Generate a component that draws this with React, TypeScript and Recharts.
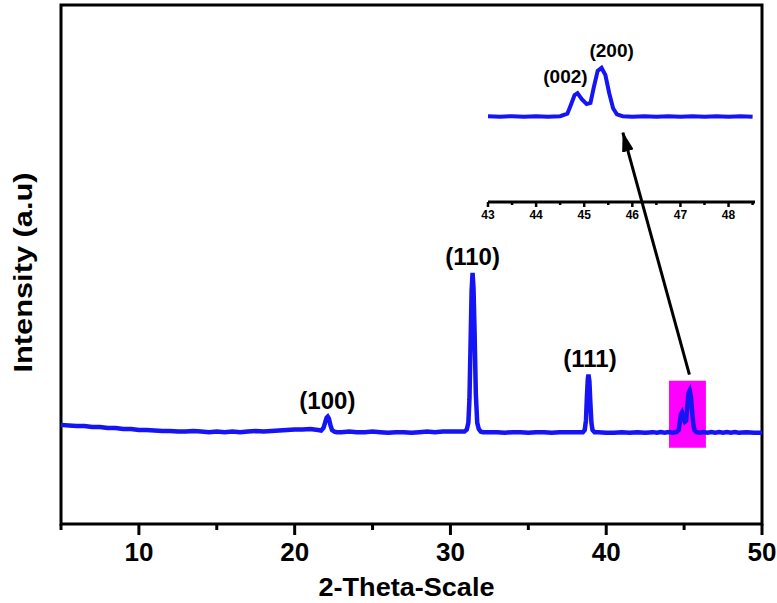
import {
  LineChart,
  Line,
  XAxis,
  YAxis,
  ReferenceArea,
  ReferenceLine,
  ReferenceDot,
} from "recharts";

// 2-theta positions (deg) and intensity (a.u.)
const twoTheta = [
  5.0, 5.5, 6.0, 6.5, 7.0, 7.5, 8.0, 8.5, 9.0, 9.5, 10.0, 10.5, 11.0, 11.5, 12.0, 12.5,
  13.0, 13.5, 14.0, 14.5, 15.0, 15.5, 16.0, 16.5, 17.0, 17.5, 18.0, 18.5, 19.0, 19.5,
  20.0, 20.5, 21.0, 21.5, 21.7, 21.85, 21.95, 22.05, 22.12, 22.2, 22.3, 22.4, 22.55,
  22.7, 23.0, 23.5, 24.0, 24.5, 25.0, 25.5, 26.0, 26.5, 27.0, 27.5, 28.0, 28.5, 29.0,
  29.5, 30.0, 30.5, 30.9, 31.05, 31.15, 31.22, 31.3, 31.36, 31.42, 31.48, 31.55, 31.63,
  31.72, 31.82, 31.95, 32.1, 32.5, 33.0, 33.5, 34.0, 34.5, 35.0, 35.5, 36.0, 36.5, 37.0,
  37.5, 38.0, 38.5, 38.62, 38.7, 38.76, 38.82, 38.86, 38.92, 38.98, 39.05, 39.12, 39.25,
  39.5, 40.0, 40.5, 41.0, 41.5, 42.0, 42.5, 43.0, 43.25, 43.5, 43.75, 44.0, 44.25, 44.5,
  44.65, 44.72, 44.8, 44.86, 44.95, 45.05, 45.13, 45.2, 45.28, 45.36, 45.44, 45.52, 45.6,
  45.68, 45.8, 46.0, 46.25, 46.5, 46.75, 47.0, 47.25, 47.5, 47.75, 48.0, 48.25, 48.5,
  49.0, 49.5, 50.0,
];
const intensity = [
  191, 190, 189, 189, 187, 187, 185, 185, 183, 183, 181, 181, 180, 179, 179, 178,
  178, 179, 178, 177, 178, 177, 178, 177, 178, 179, 178, 179, 180, 181,
  182, 182, 183, 181, 180, 185, 195, 205, 207, 203, 190, 181, 178,
  177, 177, 178, 177, 177, 178, 177, 176, 177, 177, 176, 177, 178, 177,
  178, 178, 178, 178, 182, 195, 240, 360, 450, 484, 455, 370, 250,
  195, 183, 178, 177, 177, 177, 176, 177, 177, 176, 177, 177, 176, 177,
  177, 177, 177, 181, 200, 245, 280, 288, 275, 235, 195, 181, 177,
  177, 176, 176, 177, 176, 177, 176, 177, 176, 177, 176, 177, 176, 177,
  181, 195, 212, 215, 205, 197, 199, 225, 252, 257, 245, 215, 190,
  180, 177, 176, 177, 176, 177, 176, 177, 176, 177, 176, 177, 176,
  177, 176, 176,
];

const mainTicks = [5, 10, 15, 20, 25, 30, 35, 40, 45, 50];
const insetTicks = [43, 43.5, 44, 44.5, 45, 45.5, 46, 46.5, 47, 47.5, 48, 48.5];

// Miller indices and where their labels sit (2-theta, intensity)
const mainPeakLabels = ["(100)", "(110)", "(111)"];
const mainPeakX = [22.1, 31.42, 38.96];
const mainPeakY = [222, 500, 303];
const insetPeakLabels = ["(002)", "(200)"];
const insetPeakX = [44.61, 45.57];
const insetPeakY = [232, 275];

const data = twoTheta.map((t, i) => ({ t, v: intensity[i] }));
const insetData = data.filter((d) => d.t >= 43 && d.t <= 48.5);

const FONT = "'Liberation Sans', Arial, Helvetica, sans-serif";
const BLUE = "#1414f5";

const MainTick = (props: any) => {
  const { x, y, payload } = props;
  const major = payload.value % 10 === 0;
  return (
    <g>
      <line x1={x} x2={x} y1={y} y2={y + (major ? 11 : 6)} stroke="#000" strokeWidth={3} />
      {major && (
        <text x={x} y={y + 37} textAnchor="middle" fontSize={26} fontWeight="bold" fontFamily={FONT} fill="#000">
          {payload.value}
        </text>
      )}
    </g>
  );
};

const InsetTick = (props: any) => {
  const { x, y, payload } = props;
  const major = Number.isInteger(payload.value);
  return (
    <g>
      <line x1={x} x2={x} y1={y} y2={y + (major ? 5 : 3)} stroke="#000" strokeWidth={2.5} />
      {major && (
        <text x={x} y={y + 17} textAnchor="middle" fontSize={12} fontWeight="bold" fontFamily={FONT} fill="#000">
          {payload.value}
        </text>
      )}
    </g>
  );
};

const peakLabel = (text: string, size: number) => (props: any) => {
  const { viewBox } = props;
  return (
    <text x={viewBox.x} y={viewBox.y} textAnchor="middle" fontSize={size} fontWeight="bold" fontFamily={FONT} fill="#000">
      {text}
    </text>
  );
};

const XTitle = (props: any) => {
  const { viewBox } = props;
  return (
    <text
      x={viewBox.x + viewBox.width / 2 - 5}
      y={viewBox.y + 72}
      textAnchor="middle"
      fontSize={25}
      fontWeight="bold"
      fontFamily={FONT}
      fill="#000"
      textLength={176}
      lengthAdjust="spacingAndGlyphs"
    >
      2-Theta-Scale
    </text>
  );
};

const YTitle = (props: any) => {
  const { viewBox } = props;
  const cx = 32;
  const cy = viewBox.y + viewBox.height / 2 + 8;
  return (
    <text
      x={cx}
      y={cy}
      transform={`rotate(-90, ${cx}, ${cy})`}
      textAnchor="middle"
      fontSize={25}
      fontWeight="bold"
      fontFamily={FONT}
      fill="#000"
      textLength={200}
      lengthAdjust="spacingAndGlyphs"
    >
      Intensity (a.u)
    </text>
  );
};

export default function App() {
  return (
    <div style={{ position: "absolute", left: 0, top: 0, width: 777, height: 603, background: "#fff" }}>
      <div style={{ position: "absolute", left: 0, top: 0 }}>
        <LineChart width={777} height={603} data={data} margin={{ top: 5, right: 15, bottom: 8, left: 0 }}>
          <defs>
            <marker
              id="arrowHead"
              viewBox="0 0 20 12"
              refX={19}
              refY={6}
              markerWidth={20}
              markerHeight={12}
              markerUnits="userSpaceOnUse"
              orient="auto"
            >
              <path d="M0,0 L20,6 L0,12 z" fill="#000" />
            </marker>
          </defs>
          <XAxis
            dataKey="t"
            type="number"
            domain={[5, 50]}
            ticks={mainTicks}
            interval={0}
            height={71}
            axisLine={false}
            tickLine={false}
            tickSize={0}
            tickMargin={0}
            tick={MainTick}
            label={XTitle}
          />
          <YAxis
            type="number"
            domain={[0, 1000]}
            width={61}
            axisLine={false}
            tickLine={false}
            tick={false}
            label={YTitle}
          />
          <ReferenceArea x1={44.03} x2={46.4} y1={147} y2={276} fill="#ff00ff" fillOpacity={1} stroke="none" />
          <ReferenceLine
            segment={[
              { x: 45.34, y: 288 },
              { x: 41.07, y: 754 },
            ]}
            stroke="#000"
            strokeWidth={3}
            markerEnd="url(#arrowHead)"
          />
          <Line
            type="linear"
            dataKey="v"
            stroke={BLUE}
            strokeWidth={4.5}
            dot={false}
            isAnimationActive={false}
          />
          {mainPeakLabels.map((lbl, i) => (
            <ReferenceDot
              key={lbl}
              x={mainPeakX[i]}
              y={mainPeakY[i]}
              r={0}
              fill="none"
              stroke="none"
              label={peakLabel(lbl, 24)}
            />
          ))}
          <ReferenceArea x1={5} x2={50} y1={0} y2={1000} fill="none" stroke="#000" strokeWidth={3} />
        </LineChart>
      </div>
      <div style={{ position: "absolute", left: 0, top: 0 }}>
        <LineChart width={777} height={603} data={insetData} margin={{ top: 40, right: 22, bottom: 371, left: 488 }}>
          <XAxis
            dataKey="t"
            type="number"
            domain={[43, 48.55]}
            ticks={insetTicks}
            interval={0}
            height={30}
            axisLine={{ stroke: "#000", strokeWidth: 3 }}
            tickLine={false}
            tickSize={0}
            tickMargin={0}
            tick={InsetTick}
          />
          <YAxis type="number" domain={[35, 303]} hide />
          <Line
            type="linear"
            dataKey="v"
            stroke={BLUE}
            strokeWidth={4}
            dot={false}
            isAnimationActive={false}
          />
          {insetPeakLabels.map((lbl, i) => (
            <ReferenceDot
              key={lbl}
              x={insetPeakX[i]}
              y={insetPeakY[i]}
              r={0}
              fill="none"
              stroke="none"
              label={peakLabel(lbl, 19)}
            />
          ))}
        </LineChart>
      </div>
    </div>
  );
}
